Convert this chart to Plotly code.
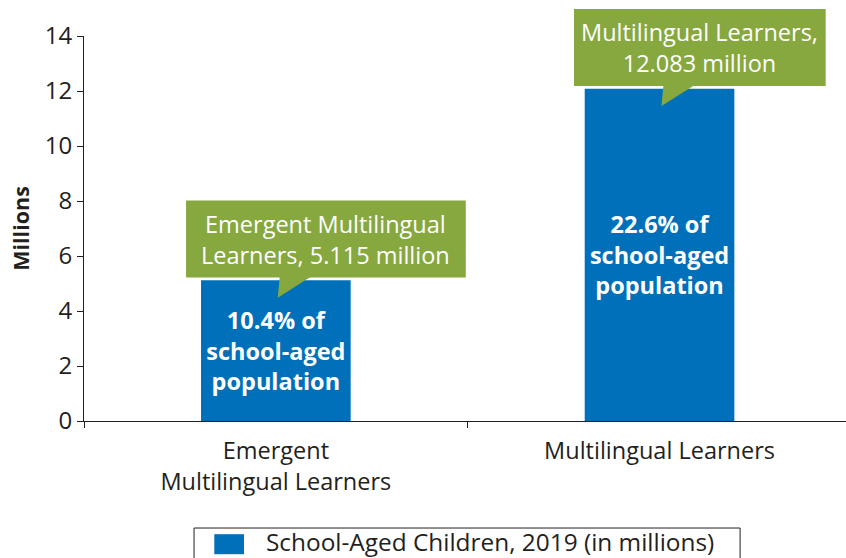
import plotly.graph_objects as go

categories = ["Emergent<br>Multilingual Learners", "Multilingual Learners"]
values = [5.115, 12.083]
bar_texts = ["10.4% of<br>school-aged<br>population", "22.6% of<br>school-aged<br>population"]
callout_texts = ["Emergent Multilingual<br>Learners, 5.115 million",
                 "Multilingual Learners,<br>12.083 million"]
legend_label = "School-Aged Children, 2019 (in millions)"
y_ticks = [0, 2, 4, 6, 8, 10, 12, 14]

BLUE = "#0070bb"
GREEN = "#86a83f"
DARK = "#231f20"
FONT = "Open Sans"

XR = [-0.5, 1.486]
YR = [0, 14]

def px_(x):
    return (x - XR[0]) / (XR[1] - XR[0])

def py_(y):
    return (y - YR[0]) / (YR[1] - YR[0])

fig = go.Figure()
fig.add_trace(go.Bar(
    x=categories, y=values, width=0.39,
    marker=dict(color=BLUE, line=dict(width=0)),
    text=bar_texts, textposition="inside", insidetextanchor="middle",
    textangle=0, constraintext="none",
    textfont=dict(family=FONT, size=23.5, color="white", weight="bold"),
    name=legend_label, showlegend=False, hoverinfo="skip",
))

# callout geometry (offsets relative to bar position / value)
box_x = [(-0.234, 0.495), (-0.223, 0.433)]
shapes = []
annotations = []
for i, v in enumerate(values):
    x0, x1 = i + box_x[i][0], i + box_x[i][1]
    yb, yt = v + 0.1, v + 2.9
    shapes.append(dict(type="rect", xref="paper", yref="paper",
                       x0=px_(x0), x1=px_(x1), y0=py_(yb), y1=py_(yt),
                       fillcolor=GREEN, line=dict(width=0), layer="above"))
    tri = "M {a},{b} L {c},{b} L {d},{e} Z".format(
        a=px_(i + 0.01), c=px_(i + 0.09), b=py_(yb + 0.02),
        d=px_(i + 0.005), e=py_(v - 0.63))
    shapes.append(dict(type="path", xref="paper", yref="paper", path=tri,
                       fillcolor=GREEN, line=dict(width=0), layer="above"))
    annotations.append(dict(xref="paper", yref="paper",
                            x=px_((x0 + x1) / 2), y=py_((yb + yt) / 2),
                            text=callout_texts[i], showarrow=False,
                            xanchor="center", yanchor="middle",
                            font=dict(family=FONT, size=23.5, color="white")))

# legend (manual)
shapes.append(dict(type="rect", xref="paper", yref="paper",
                   x0=0.1444, x1=0.861, y0=-0.40, y1=-0.278,
                   line=dict(color=DARK, width=1), fillcolor="white"))
shapes.append(dict(type="rect", xref="paper", yref="paper",
                   x0=0.171, x1=0.210, y0=-0.346, y1=-0.294,
                   line=dict(width=0), fillcolor=BLUE))
annotations.append(dict(xref="paper", yref="paper", x=0.2365, y=-0.3125,
                        text=legend_label, showarrow=False,
                        xanchor="left", yanchor="middle",
                        font=dict(family=FONT, size=24.4, color=DARK)))

fig.update_layout(
    width=846, height=558,
    margin=dict(l=84, r=0, t=36, b=137),
    plot_bgcolor="white", paper_bgcolor="white",
    font=dict(family=FONT, size=23.5, color=DARK),
    shapes=shapes, annotations=annotations,
)
fig.update_xaxes(
    range=XR, showline=True, linecolor=DARK, linewidth=1,
    ticks="outside", ticklen=6, tickcolor=DARK, tickson="boundaries",
    tickfont=dict(family=FONT, size=23.5, color=DARK),
    ticklabelstandoff=9, showgrid=False, zeroline=False,
)
fig.update_yaxes(
    range=YR, tickvals=y_ticks, showline=True, linecolor=DARK, linewidth=1,
    ticks="outside", ticklen=6, tickcolor=DARK,
    tickfont=dict(family=FONT, size=24, color=DARK),
    showgrid=False, zeroline=False,
    title=dict(text="<b>Millions</b>", font=dict(family=FONT, size=21.5, color=DARK), standoff=9),
)

fig.write_html("out.html")
